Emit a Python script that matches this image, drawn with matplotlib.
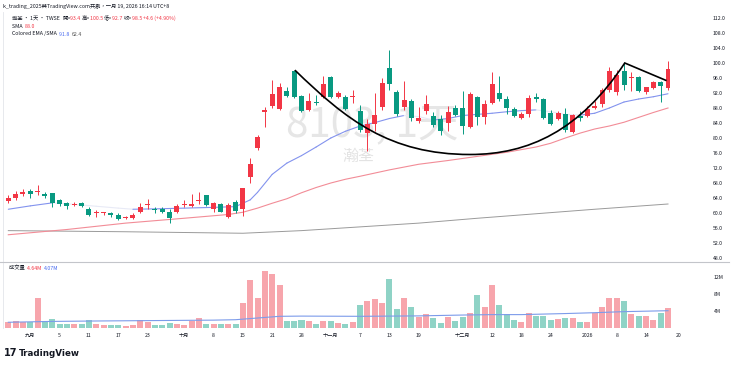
import matplotlib
matplotlib.use('Agg')
import matplotlib.pyplot as plt
import numpy as np
from matplotlib.path import Path
from matplotlib.patches import PathPatch
from matplotlib.lines import Line2D

plt.rcParams['font.family'] = ['Noto Sans CJK TC', 'DejaVu Sans']

# ---------------- data ----------------
opens = [63.2, 64.1, 65.2, 66.0, 65.5, 65.0, 65.2, 63.4, 62.7, 62.2,
         62.7, 61.1, 60.0, 60.0, 59.9, 59.5, 58.7, 58.8, 60.2, 62.1,
         61.1, 61.0, 60.4, 60.3, 62.1, 62.0, 63.1, 64.7, 61.1, 62.4,
         58.9, 63.0, 61.2, 69.5, 77.3, 87.0, 88.4, 87.7, 92.6, 97.9,
         91.2, 87.6, 89.5, 90.9, 96.3, 90.9, 91.0, 90.9, 87.2, 81.3,
         83.7, 88.3, 98.6, 92.3, 88.3, 89.9, 84.5, 87.2, 85.9, 85.0,
         83.9, 88.1, 88.1, 83.0, 91.0, 85.7, 89.3, 91.9, 90.4, 87.6,
         85.4, 86.3, 91.0, 90.3, 86.6, 85.0, 86.3, 81.6, 85.9, 85.9,
         88.0, 89.0, 92.8, 92.3, 97.9, 96.0, 96.2, 92.3, 93.3, 94.8,
         93.4]
highs = [64.7, 65.9, 66.4, 66.3, 67.4, 65.5, 65.4, 63.8, 62.9, 62.9,
         63.0, 61.5, 60.8, 60.3, 60.4, 59.9, 59.2, 60.0, 62.6, 63.7,
         61.7, 61.5, 61.0, 62.5, 63.4, 65.0, 65.5, 64.8, 63.0, 62.8,
         62.6, 63.5, 66.8, 74.6, 80.8, 88.3, 95.6, 94.6, 93.7, 98.1,
         91.5, 92.0, 91.5, 96.4, 96.6, 92.4, 91.6, 92.8, 88.8, 85.0,
         91.9, 95.9, 103.6, 92.8, 95.2, 90.3, 88.3, 91.5, 86.9, 86.1,
         88.4, 88.8, 92.4, 92.2, 91.2, 90.2, 97.7, 96.4, 91.3, 88.3,
         86.9, 91.6, 91.9, 90.6, 87.5, 87.3, 87.9, 86.4, 87.3, 88.4,
         90.0, 93.3, 99.0, 98.1, 100.0, 97.5, 96.4, 93.7, 95.3, 95.2,
         100.5]
lows = [62.7, 63.6, 64.5, 63.9, 64.9, 63.9, 61.7, 61.9, 61.1, 61.9,
        61.5, 59.3, 59.0, 59.4, 59.0, 58.1, 58.3, 58.5, 59.9, 61.2,
        60.1, 59.9, 57.3, 59.9, 61.7, 61.7, 62.4, 61.9, 60.3, 60.3,
        58.7, 59.9, 59.3, 67.9, 76.8, 83.0, 87.9, 87.5, 91.0, 90.6,
        86.9, 87.2, 88.8, 90.6, 90.6, 90.6, 87.4, 89.3, 81.6, 76.5,
        82.0, 87.5, 92.8, 86.0, 87.5, 84.5, 83.9, 86.5, 82.9, 80.9,
        81.9, 85.9, 81.2, 82.8, 83.5, 83.8, 89.1, 89.8, 86.5, 85.7,
        85.1, 85.7, 89.5, 85.0, 83.4, 84.7, 81.7, 81.4, 84.5, 85.5,
        87.7, 88.3, 92.3, 91.6, 92.8, 92.4, 92.3, 91.7, 93.1, 89.7,
        92.7]
closes = [64.0, 65.0, 65.5, 65.1, 65.8, 64.6, 62.6, 62.3, 61.9, 62.5,
          61.8, 59.6, 60.2, 60.1, 59.4, 58.3, 58.9, 59.5, 61.5, 62.5,
          60.7, 60.4, 58.6, 61.9, 62.5, 62.5, 63.5, 62.2, 62.8, 60.4,
          62.2, 60.6, 66.6, 73.1, 80.2, 87.6, 91.7, 93.6, 91.2, 90.9,
          87.2, 89.9, 89.3, 94.3, 91.0, 92.1, 87.7, 91.1, 82.1, 83.7,
          86.1, 94.6, 94.4, 86.4, 90.1, 85.3, 85.4, 89.1, 83.5, 82.0,
          87.0, 86.1, 83.2, 91.7, 85.7, 89.0, 94.4, 90.4, 87.9, 85.9,
          86.3, 90.6, 90.3, 85.3, 83.7, 86.8, 82.1, 86.1, 85.4, 87.6,
          88.4, 92.8, 97.9, 96.8, 94.1, 96.1, 92.6, 93.5, 94.9, 93.9,
          98.5]
volumes_m = [1.35, 1.65, 1.35, 1.5, 7.1, 1.7, 2.1, 0.85, 1.05, 1.0,
             1.0, 2.0, 0.9, 0.6, 0.6, 0.6, 0.55, 0.6, 2.0, 1.4,
             0.75, 0.6, 1.15, 0.85, 0.7, 1.75, 2.3, 1.0, 0.85, 0.85,
             1.0, 1.0, 5.9, 11.3, 7.0, 13.4, 12.6, 10.1, 1.65, 1.65,
             1.8, 1.65, 1.0, 1.7, 1.55, 1.15, 1.0, 1.4, 5.4, 6.4,
             6.8, 5.8, 11.6, 4.5, 7.0, 4.9, 2.6, 3.35, 2.3, 1.25,
             2.6, 1.7, 2.6, 3.5, 7.8, 4.9, 10.1, 5.3, 3.4, 1.8,
             1.4, 3.6, 2.8, 2.8, 1.9, 2.2, 2.4, 2.3, 1.35, 1.45,
             3.6, 5.0, 7.0, 7.0, 6.4, 3.4, 2.8, 2.8, 2.0, 3.6,
             4.64]

ema_idx = [0, 3, 6, 9, 12, 15, 17, 20, 24, 28, 31, 33, 34, 36, 38, 40, 42, 44, 46, 48,
           50, 52, 54, 56, 58, 60, 62, 64, 66, 68, 70, 72, 74, 76, 78, 80, 82, 84,
           86, 88, 90]
ema_val = [61.0, 61.9, 62.7, 62.3, 61.8, 61.3, 61.0, 61.1, 61.3, 61.5, 61.7, 63.5, 65.5,
           70.3, 73.3, 75.3, 77.6, 80.0, 81.8, 83.2, 84.1, 85.2, 86.0, 85.7, 84.8,
           85.2, 86.0, 86.3, 86.6, 87.0, 87.3, 87.5, 87.0, 86.3, 86.1, 86.6, 88.0,
           89.6, 90.4, 91.0, 91.8]

sma_idx = [0, 8, 16, 24, 30, 32, 34, 36, 38, 40, 42, 44, 46, 48, 52, 56, 60, 64, 68,
           72, 74, 76, 78, 80, 82, 84, 86, 88, 90]
sma_val = [54.2, 55.6, 57.3, 58.6, 59.6, 60.2, 61.3, 62.6, 63.8, 65.4, 66.8, 68.0,
           69.0, 69.8, 71.5, 73.0, 74.0, 75.1, 76.2, 77.6, 78.6, 80.0, 81.3, 82.4,
           83.2, 84.2, 85.5, 86.8, 88.0]

sma_long_idx = [0, 16, 32, 40, 48, 56, 64, 72, 80, 90]
sma_long_val = [55.3, 55.0, 54.6, 55.3, 56.3, 57.3, 58.6, 59.8, 61.0, 62.4]

vol_ma_idx = [0, 6, 12, 20, 28, 31, 34, 37, 40, 48, 52, 56, 62, 66, 70, 76, 80, 84, 90]
vol_ma_val = [1.35, 1.55, 1.65, 1.75, 1.85, 1.95, 2.35, 2.75, 2.8, 2.75, 2.8, 2.85,
              3.05, 3.15, 3.15, 3.4, 3.6, 3.85, 4.07]

# hand-drawn cup annotation: bezier anchor / control points (bar index, price)
cup_x = [39.1, 46.0, 52.0, 63.0, 71.0, 78.0, 84.1, 89.8]
cup_y = [98.1, 85.0, 75.6, 75.6, 75.6, 82.0, 100.0, 95.3]

price_ticks = [48, 52, 56, 60, 64, 68, 72, 76, 80, 84, 88, 92, 96, 100, 104, 108, 112]
vol_ticks = [4, 8, 12]
vol_tick_labels = ['4M', '8M', '12M']
date_tick_idx = [3, 7, 11, 15, 19, 24, 28, 32, 36, 40, 44, 48, 52, 56, 62, 66, 70, 74,
                 79, 83, 87, 91.5]
date_tick_labels = ['九月', '5', '11', '17', '23', '十月', '8', '15', '21', '28', '十一月',
                    '7', '13', '19', '十二月', '12', '18', '24', '2026', '8', '14', '20']

# ---------------- styling ----------------
W, H = 740, 367
RED = '#F23645'
GREEN = '#089981'
RED_V = '#F7A5AC'
GREEN_V = '#8FD3C6'
DARK = '#131722'

def fx(px):
    return px / W

def fy(py):
    return 1 - py / H

fig = plt.figure(figsize=(W / 100, H / 100), dpi=100)
L, R = 3, 690
ax = fig.add_axes([fx(L), fy(262), (R - L) / W, (262 - 12) / H])
axv = fig.add_axes([fx(L), fy(328), (R - L) / W, (328 - 262) / H], sharex=ax)

o = np.array(opens); h = np.array(highs); lo = np.array(lows); c = np.array(closes)
idx = np.arange(len(o))
up = c >= o
cols = np.where(up, RED, GREEN)

ax.vlines(idx, lo, h, colors=cols, lw=0.7, zorder=3)
ax.bar(idx, np.maximum(np.abs(c - o), 0.18), bottom=np.minimum(o, c), width=0.68,
       color=cols, linewidth=0, zorder=4)

# long SMA (gray), SMA (red), coloured EMA (blue rising / faint falling)
ax.plot(sma_long_idx, sma_long_val, color='#9a9a9a', lw=0.7, zorder=2)
ax.plot(sma_idx, sma_val, color='#F28C97', lw=0.8, zorder=2)
for k in range(len(ema_idx) - 1):
    rising = ema_val[k + 1] >= ema_val[k]
    ax.plot(ema_idx[k:k + 2], ema_val[k:k + 2],
            color='#8393EE' if rising else '#E8EAF6', lw=0.8, zorder=2,
            solid_capstyle='round')

# cup drawing
verts = list(zip(cup_x, cup_y))
codes = [Path.MOVETO, Path.CURVE4, Path.CURVE4, Path.CURVE4,
         Path.CURVE4, Path.CURVE4, Path.CURVE4, Path.LINETO]
ax.add_patch(PathPatch(Path(verts, codes), fill=False, edgecolor='black', lw=1.2, zorder=5))

x0 = (L - 8.3) / 7.33
x1 = (R - 8.3) / 7.33
ax.set_xlim(x0, x1)
ax.set_ylim(112 - (262 - 18) / 3.75, 112 + (18 - 12) / 3.75)

ax.yaxis.tick_right()
ax.set_yticks(price_ticks)
ax.set_yticklabels([f'{v:.1f}' for v in price_ticks])
ax.tick_params(axis='y', length=0, pad=(713 - R) * 0.72, labelsize=3.7, labelcolor=DARK)
ax.tick_params(axis='x', bottom=False, labelbottom=False)
for s in ['top', 'right', 'bottom']:
    ax.spines[s].set_visible(False)
ax.spines['left'].set_color('#e3e5ea')
ax.spines['left'].set_linewidth(0.6)

# watermark
def ax_frac(a, px, py, top, bot):
    return ((px - L) / (R - L), (bot - py) / (bot - top))

wx, wy = ax_frac(ax, 372, 125, 12, 262)
ax.text(wx, wy, '8103, 1天', transform=ax.transAxes, ha='center', va='center',
        fontsize=29, color='#E6E6E6', zorder=0)
wx, wy = ax_frac(ax, 358, 156, 12, 262)
ax.text(wx, wy, '瀚荃', transform=ax.transAxes, ha='center', va='center',
        fontsize=11.5, color='#E3E3E3', zorder=0)

# volume pane
v = np.array(volumes_m)
axv.bar(idx, v, width=0.82, color=np.where(up, RED_V, GREEN_V), linewidth=0, zorder=2)
axv.plot(vol_ma_idx, vol_ma_val, color='#7C9BEA', lw=0.8, zorder=3)
axv.set_ylim(0, 66 / 17 * 4)
axv.yaxis.tick_right()
axv.set_yticks(vol_ticks)
axv.set_yticklabels(vol_tick_labels)
axv.tick_params(axis='y', length=0, pad=(714 - R) * 0.72, labelsize=3.7, labelcolor=DARK)
axv.set_xticks(date_tick_idx)
axv.set_xticklabels(date_tick_labels)
axv.tick_params(axis='x', length=0, pad=3.5, labelsize=3.7, labelcolor=DARK)
for s in ['right', 'bottom', 'top']:
    axv.spines[s].set_visible(False)
axv.spines['left'].set_color('#e3e5ea')
axv.spines['left'].set_linewidth(0.6)

fig.add_artist(Line2D([0, 0.985], [fy(262), fy(262)], color='#c3c5ca', lw=0.8))

# texts
renderer = fig.canvas.get_renderer()

def pieces_text(xp, yp, pieces, size):
    x = xp
    for s, col in pieces:
        t = fig.text(fx(x), fy(yp), s, color=col, fontsize=size, va='center', ha='left')
        bb = t.get_window_extent(renderer=renderer)
        x += bb.width

fig.text(fx(3), fy(6), 'k_trading_2025與TradingView.com共創，一月 19, 2026 16:14 UTC+8',
         fontsize=3.8, color=DARK, va='center', ha='left')
pieces_text(12, 18, [('瀚荃 · 1天 · TWSE  ', DARK), ('開=', DARK), ('93.4 ', RED),
                     ('高=', DARK), ('100.5 ', RED), ('低=', DARK), ('92.7 ', RED),
                     ('收=', DARK), ('98.5 ', RED), ('+4.6 (+4.90%)', RED)], 3.8)
pieces_text(12, 26, [('SMA  ', DARK), ('88.0', RED)], 3.8)
pieces_text(12, 34, [('Colored EMA /SMA  ', DARK), ('91.8  ', '#4A6CF0'), ('62.4', '#555555')], 3.8)
pieces_text(9, 268, [('成交量  ', DARK), ('4.64M  ', RED), ('4.07M', '#4A6CF0')], 3.8)

fig.text(fx(4), fy(353), '17', fontsize=7, fontweight='bold', color=DARK,
         family='DejaVu Sans', va='center', ha='left')
fig.text(fx(19), fy(353), 'TradingView', fontsize=6.3, fontweight='bold', color=DARK,
         family='DejaVu Sans', va='center', ha='left')

fig.savefig('out.png', dpi=100, facecolor='white')
